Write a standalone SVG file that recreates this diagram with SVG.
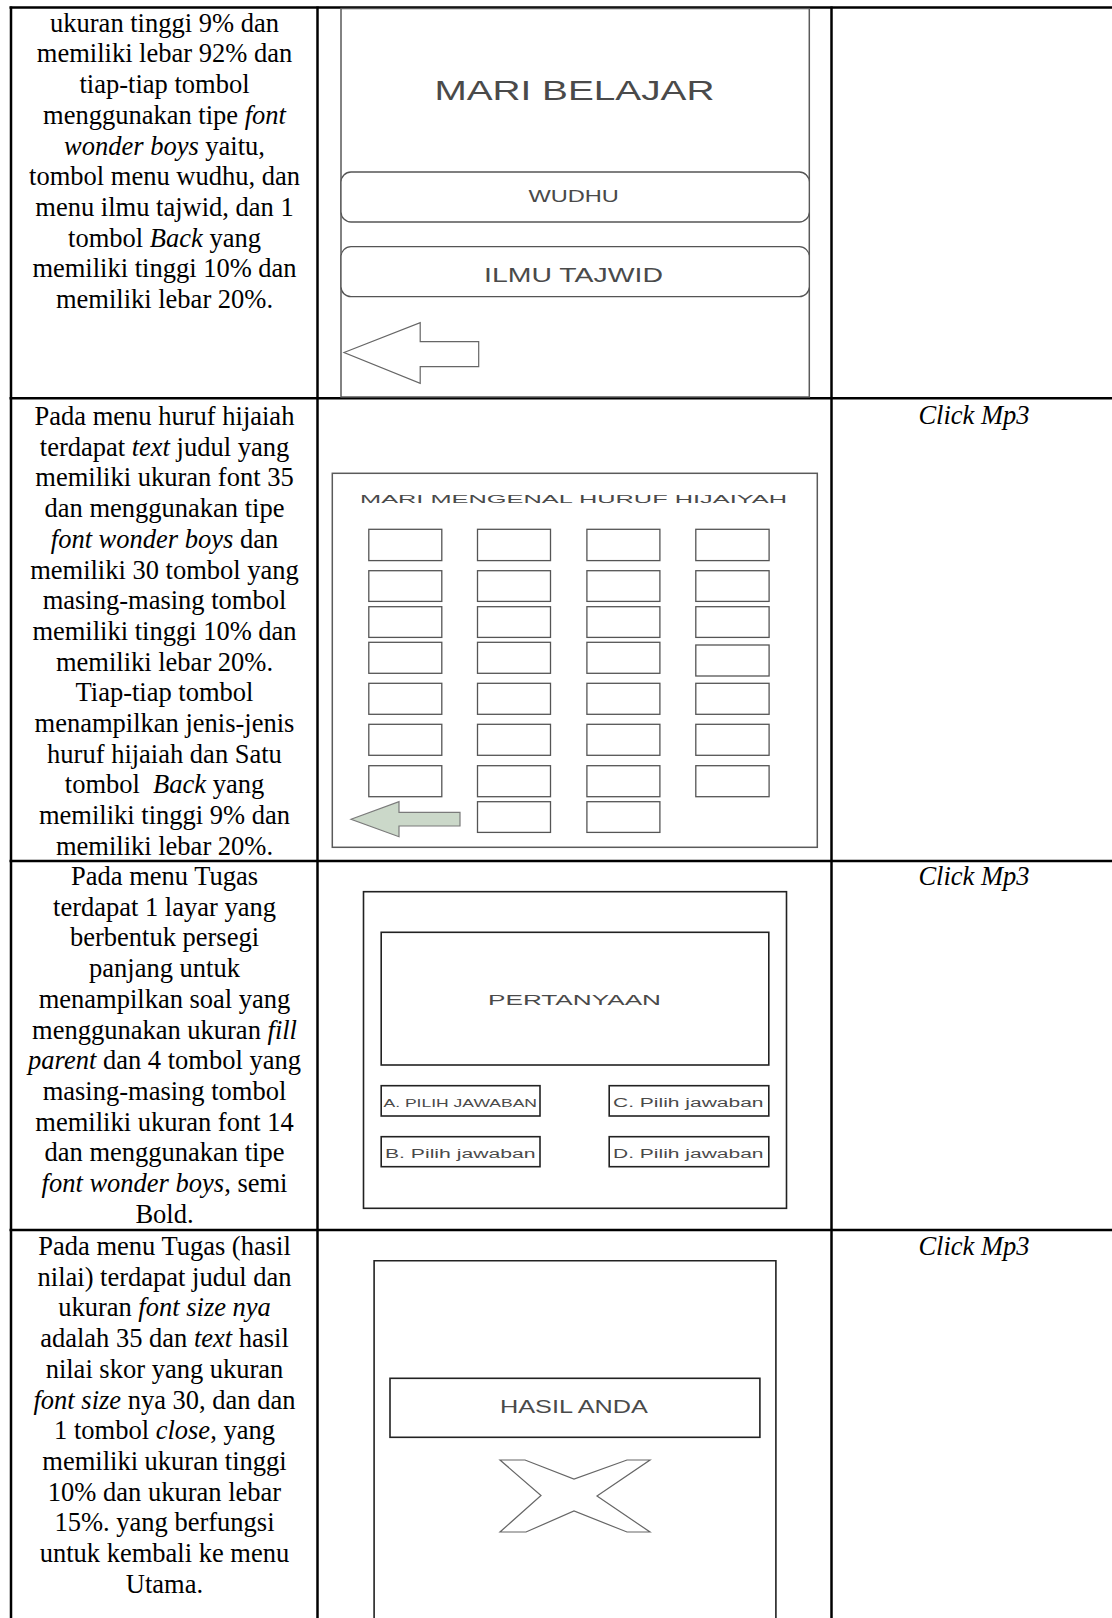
<svg xmlns="http://www.w3.org/2000/svg" width="1112" height="1618" viewBox="0 0 1112 1618">
  <style>
    .body { font-family: "Liberation Serif", "Times New Roman", serif; font-size: 26.5px; fill: #000; text-anchor: middle; }
    .it { font-style: italic; }
    .rule { stroke: #000; stroke-width: 2.5; fill: none; }
    .ui { font-family: "Liberation Sans", Arial, sans-serif; fill: #4a4a4a; }
    .frame { fill: none; stroke: #5a5a5a; stroke-width: 1.5; }
    .frame-dark { fill: none; stroke: #222; stroke-width: 1.6; }
    .box { fill: #fff; stroke: #555; stroke-width: 1.3; }
    .icon { fill: #fff; stroke: #666; stroke-width: 1.2; stroke-linejoin: miter; }
  </style>

  <rect width="1112" height="1618" fill="#fff"/>

  <!-- table rules -->
  <g id="table-rules" class="rule">
    <line x1="9.5" y1="7.5" x2="1112" y2="7.5"/>
    <line x1="11" y1="6.5" x2="11" y2="1618"/>
    <line x1="317.5" y1="6.5" x2="317.5" y2="1618"/>
    <line x1="831.5" y1="6.5" x2="831.5" y2="1618"/>
    <line x1="9.5" y1="398.3" x2="1112" y2="398.3"/>
    <line x1="9.5" y1="861" x2="1112" y2="861"/>
    <line x1="9.5" y1="1230" x2="1112" y2="1230"/>
  </g>

  <!-- row 1: main menu -->
  <g id="row1-desc" class="body">
    <text x="164.5" y="31.7">ukuran tinggi 9% dan</text>
    <text x="164.5" y="62.4">memiliki lebar 92% dan</text>
    <text x="164.5" y="93.1">tiap-tiap tombol</text>
    <text x="164.5" y="123.8">menggunakan tipe <tspan class="it">font</tspan></text>
    <text x="164.5" y="154.5"><tspan class="it">wonder boys</tspan> yaitu,</text>
    <text x="164.5" y="185.2">tombol menu wudhu, dan</text>
    <text x="164.5" y="215.9">menu ilmu tajwid, dan 1</text>
    <text x="164.5" y="246.6">tombol <tspan class="it">Back</tspan> yang</text>
    <text x="164.5" y="277.3">memiliki tinggi 10% dan</text>
    <text x="164.5" y="308">memiliki lebar 20%.</text>
  </g>
  <g id="row1-screen">
    <rect class="frame" x="341" y="8.5" width="468.3" height="388.5"/>
    <text class="ui" x="434.4" y="100" font-size="28" textLength="280" lengthAdjust="spacingAndGlyphs">MARI BELAJAR</text>
    <rect class="box" x="341" y="172" width="468.3" height="50" rx="10"/>
    <text class="ui" x="528.4" y="201.7" font-size="16.3" textLength="90.5" lengthAdjust="spacingAndGlyphs">WUDHU</text>
    <rect class="box" x="341" y="246.7" width="468.3" height="50" rx="10"/>
    <text class="ui" x="484" y="281.7" font-size="21" textLength="179" lengthAdjust="spacingAndGlyphs">ILMU TAJWID</text>
    <polygon class="icon" points="344,352.5 420.2,322.7 420.2,341.7 478.7,341.7 478.7,366.7 420.2,366.7 420.2,383.3"/>
  </g>

  <!-- row 2: hijaiyah letters -->
  <g id="row2-desc" class="body">
    <text x="164.5" y="425">Pada menu huruf hijaiah</text>
    <text x="164.5" y="455.7">terdapat <tspan class="it">text</tspan> judul yang</text>
    <text x="164.5" y="486.4">memiliki ukuran font 35</text>
    <text x="164.5" y="517.1">dan menggunakan tipe</text>
    <text x="164.5" y="547.8"><tspan class="it">font wonder boys</tspan> dan</text>
    <text x="164.5" y="578.5">memiliki 30 tombol yang</text>
    <text x="164.5" y="609.2">masing-masing tombol</text>
    <text x="164.5" y="639.9">memiliki tinggi 10% dan</text>
    <text x="164.5" y="670.6">memiliki lebar 20%.</text>
    <text x="164.5" y="701.3">Tiap-tiap tombol</text>
    <text x="164.5" y="732">menampilkan jenis-jenis</text>
    <text x="164.5" y="762.7">huruf hijaiah dan Satu</text>
    <text x="164.5" y="793.4">tombol&#160; <tspan class="it">Back</tspan> yang</text>
    <text x="164.5" y="824.1">memiliki tinggi 9% dan</text>
    <text x="164.5" y="854.8">memiliki lebar 20%.</text>
  </g>
  <g id="row2-screen">
    <rect class="frame" x="332.3" y="473.3" width="485" height="374"/>
    <text class="ui" x="360" y="503.3" font-size="11.5" textLength="427" lengthAdjust="spacingAndGlyphs" fill="#505050">MARI MENGENAL HURUF HIJAIYAH</text>
    <g class="box">
      <!-- column 1 -->
      <rect x="368.8" y="529.3" width="73" height="31.3"/>
      <rect x="368.8" y="570.7" width="73" height="30.7"/>
      <rect x="368.8" y="606.7" width="73" height="30.7"/>
      <rect x="368.8" y="642.3" width="73" height="31"/>
      <rect x="368.8" y="683.3" width="73" height="31"/>
      <rect x="368.8" y="724.3" width="73" height="31"/>
      <rect x="368.8" y="765.7" width="73" height="31"/>
      <!-- column 2 -->
      <rect x="477.5" y="529.3" width="73" height="31.3"/>
      <rect x="477.5" y="570.7" width="73" height="30.7"/>
      <rect x="477.5" y="606.7" width="73" height="30.7"/>
      <rect x="477.5" y="642.3" width="73" height="31"/>
      <rect x="477.5" y="683.3" width="73" height="31"/>
      <rect x="477.5" y="724.3" width="73" height="31"/>
      <rect x="477.5" y="765.7" width="73" height="31"/>
      <rect x="477.5" y="801.7" width="73" height="30.7"/>
      <!-- column 3 -->
      <rect x="586.9" y="529.3" width="73" height="31.3"/>
      <rect x="586.9" y="570.7" width="73" height="30.7"/>
      <rect x="586.9" y="606.7" width="73" height="30.7"/>
      <rect x="586.9" y="642.3" width="73" height="31"/>
      <rect x="586.9" y="683.3" width="73" height="31"/>
      <rect x="586.9" y="724.3" width="73" height="31"/>
      <rect x="586.9" y="765.7" width="73" height="31"/>
      <rect x="586.9" y="801.7" width="73" height="30.7"/>
      <!-- column 4 -->
      <rect x="695.8" y="529.3" width="73.3" height="31.3"/>
      <rect x="695.8" y="570.7" width="73.3" height="30.7"/>
      <rect x="695.8" y="606.7" width="73.3" height="30.7"/>
      <rect x="695.8" y="645" width="73.3" height="31"/>
      <rect x="695.8" y="683.3" width="73.3" height="31"/>
      <rect x="695.8" y="724.3" width="73.3" height="31"/>
      <rect x="695.8" y="765.7" width="73.3" height="31"/>
    </g>
    <polygon points="351,819.3 399,801.7 399,812.3 460,812.3 460,826 399,826 399,836.7" fill="#cbd8c9" stroke="#7a7a7a" stroke-width="1.2"/>
  </g>
  <g id="row2-audio" class="body">
    <text x="974" y="424" class="it">Click Mp3</text>
  </g>

  <!-- row 3: quiz -->
  <g id="row3-desc" class="body">
    <text x="164.5" y="885">Pada menu Tugas</text>
    <text x="164.5" y="915.7">terdapat 1 layar yang</text>
    <text x="164.5" y="946.4">berbentuk persegi</text>
    <text x="164.5" y="977.1">panjang untuk</text>
    <text x="164.5" y="1007.8">menampilkan soal yang</text>
    <text x="164.5" y="1038.5">menggunakan ukuran <tspan class="it">fill</tspan></text>
    <text x="164.5" y="1069.2"><tspan class="it">parent</tspan> dan 4 tombol yang</text>
    <text x="164.5" y="1099.9">masing-masing tombol</text>
    <text x="164.5" y="1130.6">memiliki ukuran font 14</text>
    <text x="164.5" y="1161.3">dan menggunakan tipe</text>
    <text x="164.5" y="1192"><tspan class="it">font wonder boys</tspan>, semi</text>
    <text x="164.5" y="1222.7">Bold.</text>
  </g>
  <g id="row3-screen">
    <rect class="frame-dark" x="363.5" y="891.7" width="423" height="316.6"/>
    <rect class="frame-dark" x="381.2" y="932.3" width="387.6" height="132.7"/>
    <text class="ui" x="488" y="1005.3" font-size="14.5" textLength="173" lengthAdjust="spacingAndGlyphs">PERTANYAAN</text>
    <rect class="frame-dark" x="381.2" y="1085.7" width="158.8" height="30.3"/>
    <text class="ui" x="383.5" y="1106.5" font-size="10.5" textLength="153.5" lengthAdjust="spacingAndGlyphs">A. PILIH JAWABAN</text>
    <rect class="frame-dark" x="381.2" y="1136.7" width="158.8" height="30"/>
    <text class="ui" x="385" y="1158.3" font-size="12.5" textLength="150.5" lengthAdjust="spacingAndGlyphs">B. Pilih jawaban</text>
    <rect class="frame-dark" x="609.2" y="1085.7" width="159.6" height="30.3"/>
    <text class="ui" x="613" y="1106.5" font-size="12.5" textLength="150.5" lengthAdjust="spacingAndGlyphs">C. Pilih jawaban</text>
    <rect class="frame-dark" x="609.2" y="1136.7" width="159.6" height="30"/>
    <text class="ui" x="613" y="1158.3" font-size="12.5" textLength="150.5" lengthAdjust="spacingAndGlyphs">D. Pilih jawaban</text>
  </g>
  <g id="row3-audio" class="body">
    <text x="974" y="885" class="it">Click Mp3</text>
  </g>

  <!-- row 4: quiz result -->
  <g id="row4-desc" class="body">
    <text x="164.5" y="1255">Pada menu Tugas (hasil</text>
    <text x="164.5" y="1285.7">nilai) terdapat judul dan</text>
    <text x="164.5" y="1316.4">ukuran <tspan class="it">font size nya</tspan></text>
    <text x="164.5" y="1347.1">adalah 35 dan <tspan class="it">text</tspan> hasil</text>
    <text x="164.5" y="1377.8">nilai skor yang ukuran</text>
    <text x="164.5" y="1408.5"><tspan class="it">font size</tspan> nya 30, dan dan</text>
    <text x="164.5" y="1439.2">1 tombol <tspan class="it">close</tspan>, yang</text>
    <text x="164.5" y="1469.9">memiliki ukuran tinggi</text>
    <text x="164.5" y="1500.6">10% dan ukuran lebar</text>
    <text x="164.5" y="1531.3">15%. yang berfungsi</text>
    <text x="164.5" y="1562">untuk kembali ke menu</text>
    <text x="164.5" y="1592.7">Utama.</text>
  </g>
  <g id="row4-screen">
    <path class="frame-dark" d="M374.1,1618 V1260.7 H775.9 V1618"/>
    <rect class="frame-dark" x="390" y="1378.3" width="369.9" height="59"/>
    <text class="ui" x="500" y="1413.3" font-size="18.6" textLength="148" lengthAdjust="spacingAndGlyphs">HASIL ANDA</text>
    <polygon class="icon" points="500,1460 525,1460 574,1479 627,1460 650,1460 597,1496 650,1532 627,1532 574,1511 526,1532 500,1532 541,1495.5"/>
  </g>
  <g id="row4-audio" class="body">
    <text x="974" y="1255" class="it">Click Mp3</text>
  </g>
</svg>
